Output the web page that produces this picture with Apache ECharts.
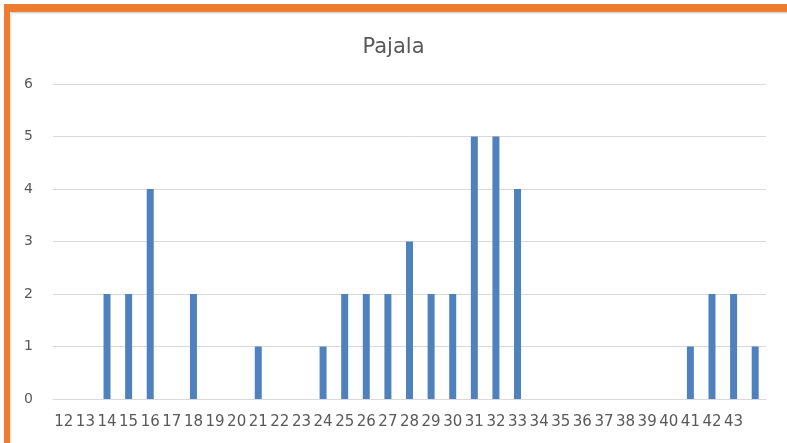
<!DOCTYPE html>
<html>
<head>
<meta charset="utf-8">
<script src="https://cdn.jsdelivr.net/npm/echarts@6/dist/echarts.min.js"></script>
<style>
html,body{margin:0;padding:0;background:#fff;}
#c{width:787px;height:443px;}
</style>
</head>
<body>
<div id="c"></div>
<script>
var titleText = 'Pajala';
var categories = ['12','13','14','15','16','17','18','19','20','21','22','23','24','25','26','27','28','29','30','31','32','33','34','35','36','37','38','39','40','41','42','43',''];
var values = [0,0,2,2,4,0,2,0,0,1,0,0,1,2,2,2,3,2,2,5,5,4,0,0,0,0,0,0,0,1,2,2,1];
var yTicks = [0,1,2,3,4,5,6];

var chart = echarts.init(document.getElementById('c'), null, {renderer:'canvas'});
chart.setOption({
  animation:false,
  backgroundColor:'#fff',
  title:{
    text:titleText, left:'center', top:32,
    textStyle:{fontFamily:'DejaVu Sans', fontSize:21, fontWeight:'normal', color:'#595959'}
  },
  grid:{left:53, right:21, top:84, bottom:44, containLabel:false},
  xAxis:{
    type:'category', data:categories,
    axisLine:{show:true, lineStyle:{color:'#d9d9d9', width:1}},
    axisTick:{show:false},
    axisLabel:{interval:0, margin:16, fontFamily:'DejaVu Sans', fontSize:15, color:'#595959'}
  },
  yAxis:{
    type:'value', min:yTicks[0], max:yTicks[yTicks.length-1], interval:1,
    axisLine:{show:false}, axisTick:{show:false},
    splitLine:{lineStyle:{color:'#d9d9d9', width:1}},
    axisLabel:{margin:20, fontFamily:'DejaVu Sans', fontSize:14, color:'#595959'}
  },
  series:[{
    type:'bar', data:values, barWidth:7,
    itemStyle:{color:'#4F81BD'}
  }],
  graphic:[
    {type:'rect', shape:{x:4, y:4, width:783, height:8}, style:{fill:'#ED7D31'}, z:100},
    {type:'rect', shape:{x:4, y:4, width:6, height:439}, style:{fill:'#ED7D31'}, z:100},
    {type:'rect', shape:{x:10, y:12, width:777, height:1.5}, style:{fill:'#d9d9d9'}, z:99},
    {type:'rect', shape:{x:10, y:12, width:1.5, height:431}, style:{fill:'#e6e6e6'}, z:99}
  ]
});
</script>
</body>
</html>
